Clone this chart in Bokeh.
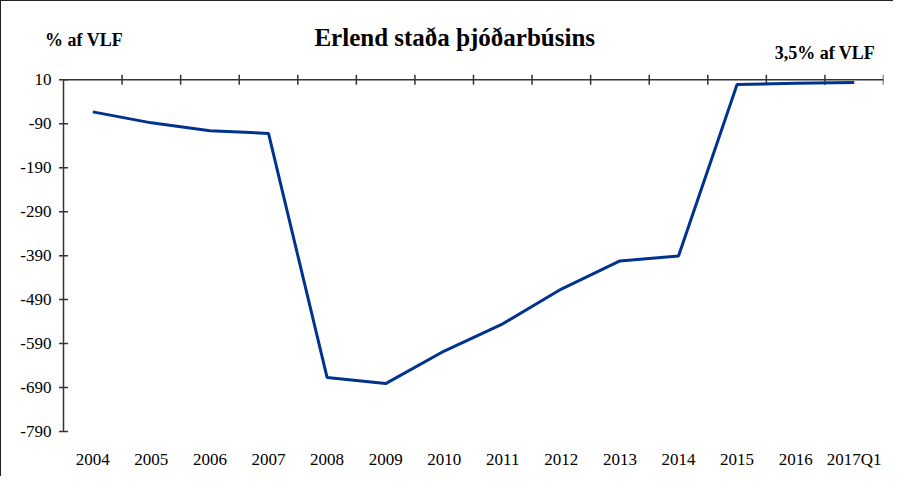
import math
from bokeh.plotting import figure
from bokeh.models import Range1d, Label
from bokeh.core.properties import value
from bokeh.embed import file_html
from bokeh.resources import INLINE

categories = ["2004", "2005", "2006", "2007", "2008", "2009", "2010",
              "2011", "2012", "2013", "2014", "2015", "2016", "2017Q1"]
values = [-63, -88, -106, -112, -667, -681, -607, -545, -466, -402, -391, -1, 2, 3.5]
y_ticks = [10, -90, -190, -290, -390, -490, -590, -690, -790]

title_text = "Erlend staða þjóðarbúsins"
unit_text = "% af VLF"
note_text = "3,5% af VLF"

FONT = "Liberation Serif"
AX = "#333333"

W, H = 893, 476
AXIS_PX = 62       # distance from left edge to the value axis
RIGHT_PX = 11
PX_PER_UNIT = 351 / 800
n = len(categories)
xs = [i + 0.5 for i in range(n)]
cat_px = (W - RIGHT_PX - AXIS_PX) / n
x_lo = -AXIS_PX / cat_px
y_min, y_axis_top = y_ticks[-1], y_ticks[0]
y_room_top = 188   # headroom so the texts live inside the frame
y_room_bot = y_room_top - (H - 1) / PX_PER_UNIT

p = figure(width=W, height=H, output_backend="svg", toolbar_location=None,
           x_range=Range1d(x_lo, n), y_range=Range1d(y_room_bot, y_room_top),
           x_axis_location=None, y_axis_location=None,
           min_border_left=0, min_border_right=RIGHT_PX, min_border_top=0, min_border_bottom=0)
p.outline_line_color = None
p.xgrid.grid_line_color = None
p.ygrid.grid_line_color = None
p.styles = {"border-left": "1px solid #222", "border-top": "1px solid #222"}

# value axis at x = 0 (drawn from the tick list)
p.line(x=[0, 0], y=[y_min, y_axis_top], line_color=AX, line_width=1.5)
p.scatter(x=[0] * len(y_ticks), y=y_ticks, marker="dash", size=9,
          line_color=AX, line_width=1.5)
p.text(x=[0] * len(y_ticks), y=y_ticks, text=[str(t) for t in y_ticks],
       x_offset=-12, text_align="right", text_baseline="middle",
       text_font=value(FONT), text_font_size="17px", text_color="#000000")

# horizontal axis line at y = 10 with category-boundary ticks
p.line(x=[0, n], y=[y_axis_top, y_axis_top], line_color=AX, line_width=1.5)
p.scatter(x=list(range(1, n + 1)), y=[y_axis_top] * n, marker="dash", angle=math.pi / 2,
          size=10, line_color=AX, line_width=1.5)

# category labels below the bottom of the value axis
p.text(x=xs, y=[y_min] * n, text=categories, y_offset=28,
       text_align="center", text_baseline="middle",
       text_font=value(FONT), text_font_size="17px", text_color="#000000")

p.line(xs, values, line_color="#00338d", line_width=3)

p.add_layout(Label(x=6.68, y=107, text=title_text,
                   text_font=FONT, text_font_style="bold", text_font_size="25px",
                   text_align="center", text_baseline="middle", text_color="#000000"))
p.add_layout(Label(x=0.35, y=100, text=unit_text,
                   text_font=FONT, text_font_style="bold", text_font_size="18px",
                   text_align="center", text_baseline="middle", text_color="#000000"))
p.add_layout(Label(x=13.0, y=71, text=note_text,
                   text_font=FONT, text_font_style="bold", text_font_size="18px",
                   text_align="center", text_baseline="middle", text_color="#000000"))

open("out.html", "w").write(file_html(p, INLINE))
